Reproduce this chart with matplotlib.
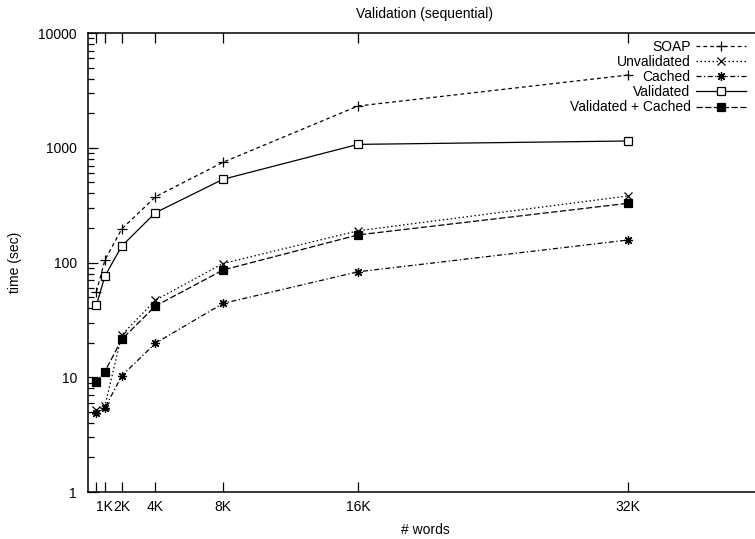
import matplotlib
matplotlib.use("Agg")
import matplotlib.pyplot as plt
from matplotlib.ticker import FixedLocator, LogLocator, NullFormatter, FixedFormatter

plt.rcParams['font.family'] = ['Liberation Sans', 'DejaVu Sans']
plt.rcParams['font.size'] = 10

# data
words = [512, 1024, 2048, 4096, 8192, 16384, 32768]
soap = [55.6, 105, 196, 374, 747, 2311, 4300]
unvalidated = [5.2, 5.6, 23.4, 47, 98, 189, 380]
cached = [4.9, 5.4, 10.3, 19.8, 44, 83, 157]
validated = [42.6, 76, 139, 272, 531, 1070, 1145]
validated_cached = [9.15, 11.2, 21.4, 41.8, 86, 174, 328]

tick_pos = [512, 1024, 2048, 4096, 8192, 16384, 32768]
tick_labels = ['', '1K', '2K', '4K', '8K', '16K', '32K']

fig = plt.figure(figsize=(7.55, 5.39), dpi=100)
# the right part of the plot runs off the image, like the original
ax = fig.add_axes([88 / 755, 47 / 539, (762 - 88) / 755, (492 - 33) / 539])

lw = 0.9
ax.plot(words, soap, color='black', lw=lw, ls=(0, (3, 2.5)),
        marker='+', ms=6.5, mew=0.9, label='SOAP')
ax.plot(words, unvalidated, color='black', lw=lw, ls=(0, (1.2, 2)),
        marker='x', ms=5.5, mew=0.9, label='Unvalidated')
ax.plot(words, cached, color='black', lw=lw, ls=(0, (4, 2, 1, 2)),
        marker=(8, 2, 0), ms=6.5, mew=0.9, label='Cached')
ax.plot(words, validated, color='black', lw=lw, ls='-',
        marker='s', ms=5.3, mfc='white', mew=0.9, label='Validated')
ax.plot(words, validated_cached, color='black', lw=lw, ls=(0, (5, 2)),
        marker='s', ms=5.3, mfc='black', mew=0.9, label='Validated + Cached')

ax.set_yscale('log')
ax.set_ylim(1, 10000)
ax.set_xlim(0, 40900)

ax.xaxis.set_major_locator(FixedLocator(tick_pos))
ax.xaxis.set_major_formatter(FixedFormatter(tick_labels))
ax.yaxis.set_minor_locator(LogLocator(base=10, subs=range(2, 10)))
ax.yaxis.set_minor_formatter(NullFormatter())
ax.set_yticks([1, 10, 100, 1000, 10000])
ax.set_yticklabels(['1', '10', '100', '1000', '10000'])

ax.tick_params(which='major', direction='in', length=7, width=0.9,
               top=True, right=False, labelsize=10, pad=6)
ax.tick_params(which='minor', direction='in', length=4, width=0.9,
               top=False, right=False)
ax.tick_params(axis='y', pad=8)

for s in ax.spines.values():
    s.set_linewidth(1.1)

ax.set_title('Validation (sequential)', fontsize=10, pad=11)
ax.set_xlabel('# words', fontsize=10, labelpad=6)
ax.set_ylabel('time (sec)', fontsize=10, labelpad=12)

leg = ax.legend(loc='upper right', bbox_to_anchor=(746 / 755, 1 - 40 / 539),
                bbox_transform=fig.transFigure, frameon=False, markerfirst=False,
                handlelength=3.6, handletextpad=0.4, labelspacing=0.08,
                borderpad=0, borderaxespad=0, fontsize=10, numpoints=1)

fig.savefig('out.png', dpi=100)
